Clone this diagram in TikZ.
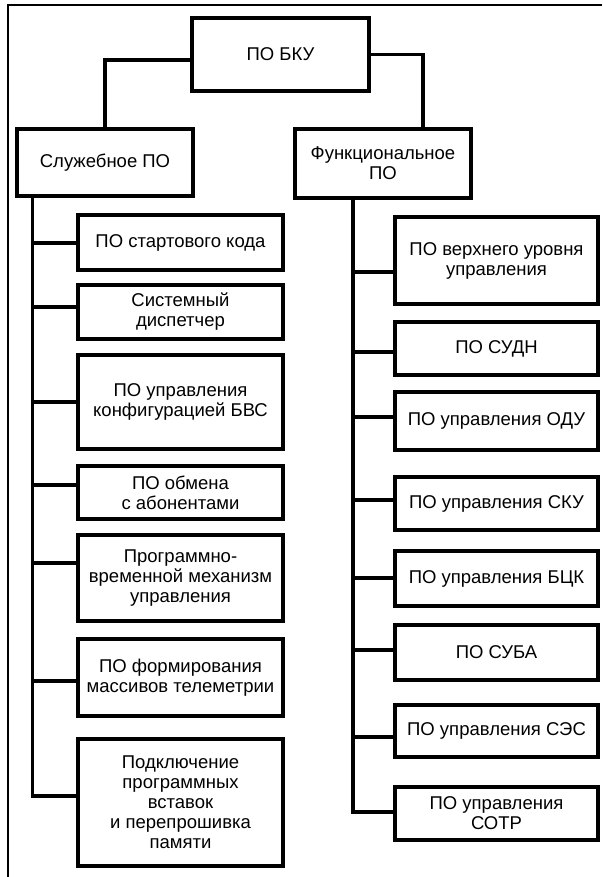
\documentclass[tikz,border=0pt]{standalone}
\usepackage{fontspec}
\setmainfont{Liberation Sans}
\begin{document}
\begin{tikzpicture}[
  x=1pt, y=-1pt,
  box/.style={draw, rectangle, line width=3.6pt, align=center, inner sep=0pt,
    font=\fontsize{18.5}{20}\selectfont},
  lbox/.style={box, minimum width=205pt},
  rbox/.style={box, minimum width=203pt},
  link/.style={line width=3.3pt}
]
  \useasboundingbox (0,0) rectangle (602,877);
  \draw[line width=2pt] (8,877) -- (8,5) -- (602,5);

  \node[box, line width=4pt, minimum width=177pt, minimum height=73pt] (top) at (280.5,54.5) {ПО БКУ};
  \node[box, minimum width=176pt, minimum height=67pt] (sluzh) at (105,162.5) {Служебное ПО};
  \node[box, line width=4pt, minimum width=176pt, minimum height=69pt] (func) at (383,163.5) {Функциональное\\ПО};

  \node[lbox, minimum height=55pt] (s1) at (180.5,242.5) {ПО стартового кода};
  \node[lbox, minimum height=54pt] (s2) at (180.5,312) {Системный\\диспетчер};
  \node[lbox, minimum height=94pt] (s3) at (180.5,402) {ПО управления\\конфигурацией БВС};
  \node[lbox, minimum height=53pt] (s4) at (180.5,492.5) {ПО обмена\\с абонентами};
  \node[lbox, minimum height=86pt] (s5) at (180.5,578) {Программно-\\временной механизм\\управления};
  \node[lbox, minimum height=77pt] (s6) at (180.5,677.5) {ПО формирования\\массивов телеметрии};
  \node[lbox, minimum height=127pt] (s7) at (180.5,802.5) {Подключение\\программных\\вставок\\и перепрошивка\\памяти};

  \node[rbox, minimum height=87pt] (r1) at (496.5,260.5) {ПО верхнего уровня\\управления};
  \node[rbox, minimum height=53pt] (r2) at (496.5,348.5) {ПО СУДН};
  \node[rbox, minimum height=58pt] (r3) at (496.5,421) {ПО управления ОДУ};
  \node[rbox, minimum height=53pt] (r4) at (496.5,503.5) {ПО управления СКУ};
  \node[rbox, minimum height=55pt] (r5) at (496.5,578.5) {ПО управления БЦК};
  \node[rbox, minimum height=55pt] (r6) at (496.5,652.5) {ПО СУБА};
  \node[rbox, minimum height=52pt] (r7) at (496.5,731) {ПО управления СЭС};
  \node[rbox, minimum height=53pt] (r8) at (496.5,813.5) {ПО управления\\СОТР};

  \draw[link] (sluzh.north) |- ([yshift=-5.5pt]top.west);
  \draw[link] ([xshift=40pt]func.north) |- (top.east);

  \coordinate (ltop) at ([xshift=17pt]sluzh.south west);
  \coordinate (rtop) at ([xshift=-30pt]func.south);

  \draw[link] (ltop) |- (s7.west |- 0,796);
  \foreach \n/\y in {1/243,2/307,3/402,4/485,5/563,6/681}
    \draw[link] (ltop |- 0,\y) -- (s\n.west |- 0,\y);

  \draw[link] (rtop) |- (r8.west |- 0,812);
  \foreach \n/\y in {1/272,2/352,3/417,4/500,5/578,6/650,7/737}
    \draw[link] (rtop |- 0,\y) -- (r\n.west |- 0,\y);
\end{tikzpicture}
\end{document}
